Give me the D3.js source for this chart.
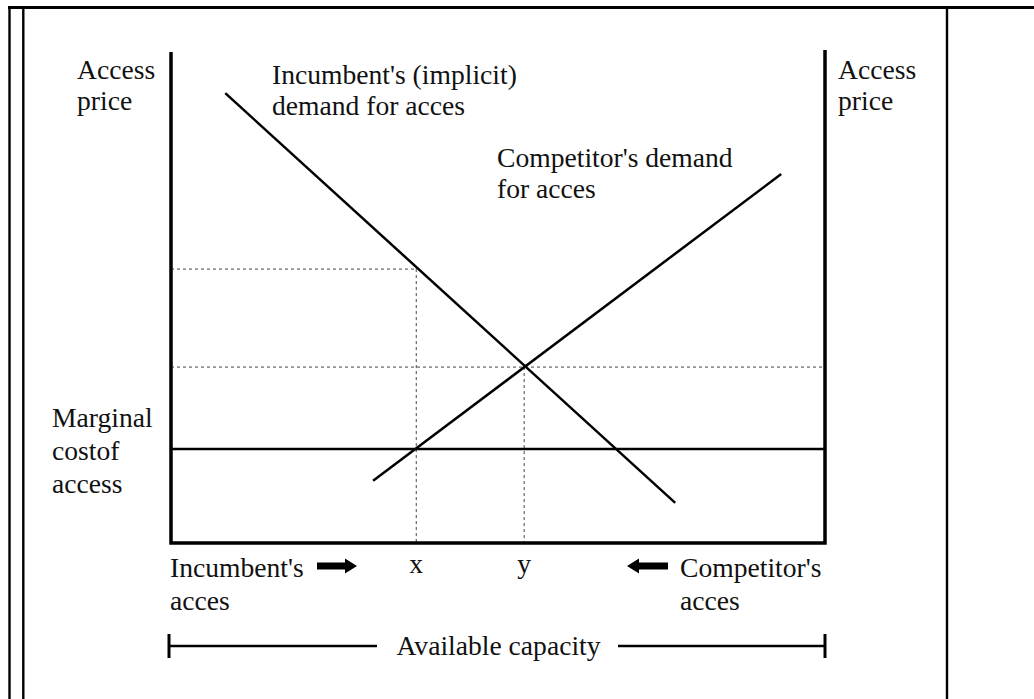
<!DOCTYPE html>
<html>
<head>
<meta charset="utf-8">
<script src="https://cdn.jsdelivr.net/npm/d3@7"></script>
<style>
  body { margin: 0; background: #fff; }
  svg { display: block; }
  text { font-family: "Liberation Serif", "Times New Roman", serif; font-size: 27.6px; fill: #111; }
</style>
</head>
<body>
<div id="chart"></div>
<script>
// capacity (0 = incumbent side, 100 = competitor side) and access price, 0..100
var incumbentDemand = [[8.3, 91.8], [77.1, 8.2]];
var competitorDemand = [[30.9, 12.7], [93.3, 75.3]];
var marginalCost = 19.2;
var equilibria = [
    { label: "x", capacity: 37.5, price: 55.9, full: false },
    { label: "y", capacity: 54.0, price: 35.9, full: true }
];
var curveLabels = [
    { lines: ["Incumbent's (implicit)", "demand for acces"], x: 272, y: 84 },
    { lines: ["Competitor's demand", "for acces"], x: 497, y: 167 }
];

var width = 1034, height = 699;
var svg = d3.select("#chart").append("svg")
    .attr("width", width)
    .attr("height", height);

var x = d3.scaleLinear().domain([0, 100]).range([171, 825]);
var y = d3.scaleLinear().domain([0, 100]).range([543, 53]);

// table frame
svg.append("line").attr("x1", 8).attr("x2", width).attr("y1", 7.5).attr("y2", 7.5)
    .attr("stroke", "#000").attr("stroke-width", 3);
[9.5, 23.3].forEach(function(px) {
    svg.append("line").attr("x1", px).attr("x2", px).attr("y1", 6).attr("y2", height)
        .attr("stroke", "#000").attr("stroke-width", 2.4);
});
svg.append("line").attr("x1", 947).attr("x2", 947).attr("y1", 6).attr("y2", height)
    .attr("stroke", "#000").attr("stroke-width", 2.4);

// dotted guides
var dots = svg.append("g").attr("stroke", "#444").attr("stroke-width", 1)
    .attr("stroke-dasharray", "3,3");
equilibria.forEach(function(d) {
    dots.append("line")
        .attr("x1", x(0)).attr("x2", d.full ? x(100) : x(d.capacity))
        .attr("y1", y(d.price)).attr("y2", y(d.price));
    dots.append("line")
        .attr("x1", x(d.capacity)).attr("x2", x(d.capacity))
        .attr("y1", y(d.price)).attr("y2", y(0));
});

// marginal cost
svg.append("line")
    .attr("x1", x(0)).attr("x2", x(100))
    .attr("y1", y(marginalCost)).attr("y2", y(marginalCost))
    .attr("stroke", "#000").attr("stroke-width", 2.5);

// demand curves
var line = d3.line().x(function(d) { return x(d[0]); }).y(function(d) { return y(d[1]); });
[incumbentDemand, competitorDemand].forEach(function(c) {
    svg.append("path").attr("d", line(c))
        .attr("fill", "none").attr("stroke", "#000").attr("stroke-width", 2.5);
});

// axes (left, right, bottom)
svg.append("path")
    .attr("d", "M" + x(0) + "," + (y(100) - 1) + "V" + y(0) + "H" + x(100) + "V" + (y(100) - 3))
    .attr("fill", "none").attr("stroke", "#000").attr("stroke-width", 3.5);

// curve labels
curveLabels.forEach(function(l) {
    var t = svg.append("text").attr("x", l.x).attr("y", l.y);
    l.lines.forEach(function(s, i) {
        t.append("tspan").attr("x", l.x).attr("dy", i ? 31 : 0).text(s);
    });
});

function multi(lines, px, py, gap) {
    var t = svg.append("text").attr("x", px).attr("y", py);
    lines.forEach(function(s, i) {
        t.append("tspan").attr("x", px).attr("dy", i ? gap : 0).text(s);
    });
}
multi(["Access", "price"], 77, 79, 31);
multi(["Access", "price"], 838, 79, 31);
multi(["Marginal", "costof", "access"], 52, 427, 33);
multi(["Incumbent's", "acces"], 170, 577, 33);
multi(["Competitor's", "acces"], 680, 577, 33);

equilibria.forEach(function(d) {
    svg.append("text").attr("x", x(d.capacity)).attr("y", 573)
        .attr("text-anchor", "middle").text(d.label);
});

// arrows
function arrow(x0, x1, cy) {
    var dir = x1 > x0 ? 1 : -1, head = 12 * dir;
    svg.append("path")
        .attr("d", "M" + x0 + "," + (cy - 3.5) + "H" + (x1 - head) + "V" + (cy - 7.5) +
            "L" + x1 + "," + cy + "L" + (x1 - head) + "," + (cy + 7.5) + "V" + (cy + 3.5) +
            "H" + x0 + "Z")
        .attr("fill", "#000");
}
arrow(317, 357, 566);
arrow(668, 627, 566);

// available capacity bracket
var by = 646;
svg.append("line").attr("x1", x(0) - 2).attr("x2", 377).attr("y1", by).attr("y2", by)
    .attr("stroke", "#000").attr("stroke-width", 2.5);
svg.append("line").attr("x1", 618).attr("x2", x(100)).attr("y1", by).attr("y2", by)
    .attr("stroke", "#000").attr("stroke-width", 2.5);
[x(0) - 2, x(100)].forEach(function(px) {
    svg.append("line").attr("x1", px).attr("x2", px).attr("y1", by - 12).attr("y2", by + 12)
        .attr("stroke", "#000").attr("stroke-width", 3);
});
svg.append("text").attr("x", (377 + 618) / 2 + 1).attr("y", by + 9)
    .attr("text-anchor", "middle").text("Available capacity");
</script>
</body>
</html>
